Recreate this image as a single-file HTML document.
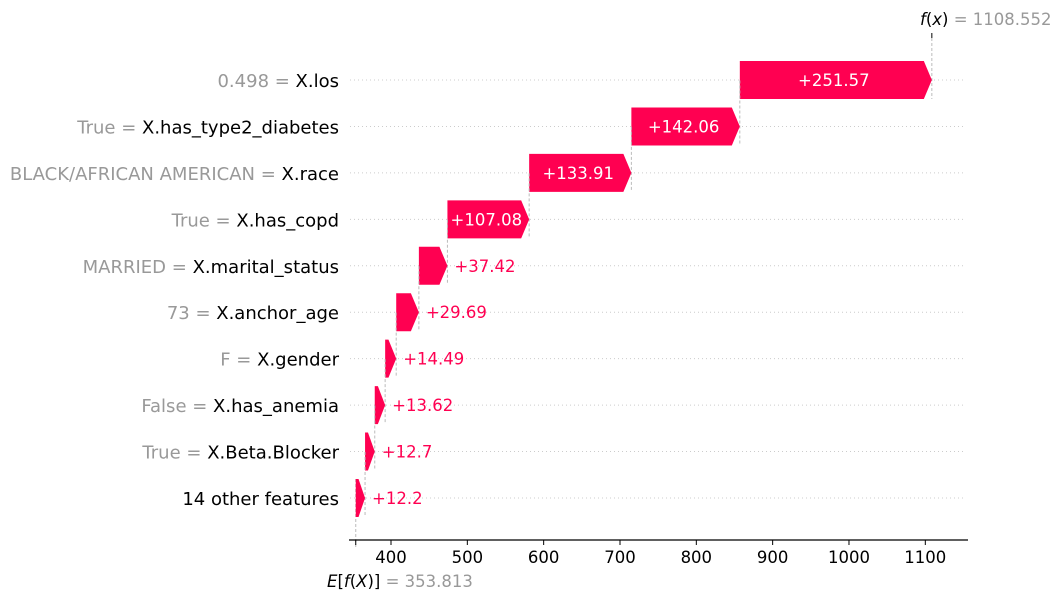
<!DOCTYPE html>
<html><head><meta charset="utf-8"><style>
body{margin:0;background:#fff;}
svg{font-family:"DejaVu Sans","Liberation Sans",sans-serif;}
</style></head><body>
<svg id="c" width="1060" height="600" viewBox="0 0 1060 600" xmlns="http://www.w3.org/2000/svg"></svg>
<script>
const featureValues=["0.498","True","BLACK/AFRICAN AMERICAN","True","MARRIED","73","F","False","True",""];
const featureNames=["X.los","X.has_type2_diabetes","X.race","X.has_copd","X.marital_status","X.anchor_age","X.gender","X.has_anemia","X.Beta.Blocker","14 other features"];
const contributions=[251.57,142.06,133.91,107.08,37.42,29.69,14.49,13.62,12.7,12.2];
const baseValue=353.813;
const fxValue=1108.552;
const xTicks=[400,500,600,700,800,900,1000,1100];

const svg=document.getElementById('c');
const NS='http://www.w3.org/2000/svg';
const X=v=>391+(v-400)*0.7633;
const Y=i=>80+i*46.44;
function el(t,a,txt){const e=document.createElementNS(NS,t);for(const k in a)e.setAttribute(k,a[k]);if(txt!==undefined)e.textContent=txt;svg.appendChild(e);return e;}
const n=contributions.length;
for(let i=0;i<n;i++){
  const g=el('line',{x1:350,x2:966,y1:Y(i),y2:Y(i),stroke:'#ccc','stroke-width':1,'stroke-dasharray':'1,3'});
  
  
}
const ends=[];let cum=baseValue;
for(let i=n-1;i>=0;i--){const s=cum;cum+=contributions[i];ends[i]=[s,cum];}
const bl=el('line',{x1:X(baseValue),x2:X(baseValue),y1:Y(n-1)-19,y2:548,stroke:'#bbb','stroke-width':1,'stroke-dasharray':'3,2'});


const fl=el('line',{x1:X(fxValue),x2:X(fxValue),y1:38,y2:Y(0)+19,stroke:'#bbb','stroke-width':1,'stroke-dasharray':'3,2'});


el('line',{x1:X(fxValue),x2:X(fxValue),y1:33,y2:38,stroke:'#000','stroke-width':1});
for(let i=0;i<n;i++){
  const [s,e]=ends[i];const x0=X(s),x1=X(e),w=x1-x0,y=Y(i),h=19;
  if(i>0){const c=el('line',{x1:x1,x2:x1,y1:y-h-27,y2:y+h,stroke:'#bbb','stroke-width':1,'stroke-dasharray':'3,2'});
    }
  const hd=Math.min(8,w*0.7);
  const p=el('polygon',{points:`${x0},${y-h} ${x1-hd},${y-h} ${x1},${y} ${x1-hd},${y+h} ${x0},${y+h}`,fill:'#ff0051'});
  
  
  const lab='+'+contributions[i];
  let t;
  if(w>80){t=el('text',{x:(x0+x1-hd)/2+2,y:y+6,'text-anchor':'middle','font-size':16.5,fill:'#fff'},lab);}
  else{t=el('text',{x:x1+7,y:y+6,'font-size':16.5,fill:'#ff0051'},lab);}
  
  
  const ft=el('text',{x:339,y:y+7,'text-anchor':'end','font-size':18,fill:'#000'});
  
  
  if(featureValues[i]){const a=document.createElementNS(NS,'tspan');a.setAttribute('fill','#999');a.textContent=featureValues[i]+' = ';ft.appendChild(a);}
  const b=document.createElementNS(NS,'tspan');b.textContent=featureNames[i];ft.appendChild(b);
}
const ax=el('line',{x1:349,x2:968,y1:540,y2:540,stroke:'#000','stroke-width':1.2});


el('line',{x1:X(baseValue),x2:X(baseValue),y1:540,y2:545,stroke:'#000','stroke-width':1});
xTicks.forEach(v=>{
  el('line',{x1:X(v),x2:X(v),y1:540,y2:545,stroke:'#000','stroke-width':1});
  const t=el('text',{x:X(v),y:563,'text-anchor':'middle','font-size':16.5,fill:'#000'},v);
  
  
});
const et=el('text',{x:327,y:587,'font-size':16.5,fill:'#000'});


et.innerHTML='<tspan font-style="italic">E</tspan>[<tspan font-style="italic">f</tspan>(<tspan font-style="italic">X</tspan>)] <tspan fill="#999">= '+baseValue+'</tspan>';
const ft2=el('text',{x:920,y:25,'font-size':16.5,fill:'#000'});


ft2.innerHTML='<tspan font-style="italic">f</tspan>(<tspan font-style="italic">x</tspan>) <tspan fill="#999">= '+fxValue+'</tspan>';
</script>
</body></html>
